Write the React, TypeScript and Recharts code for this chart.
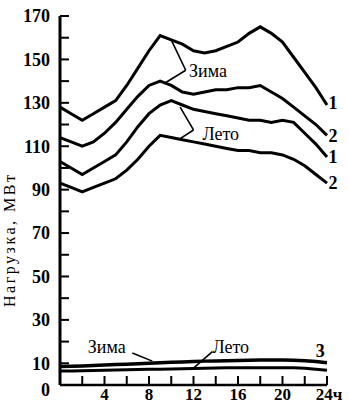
import { LineChart, Line, XAxis, YAxis, ReferenceLine, ReferenceDot } from 'recharts';

const hours = [0, 1, 2, 3, 4, 5, 6, 7, 8, 9, 10, 11, 12, 13, 14, 15, 16, 17, 18, 19, 20, 21, 22, 23, 24];
const winter1 = [128, 125, 122, 125, 128, 131, 138, 146, 154, 161, 159, 157, 154, 153, 154, 156, 158, 162, 165, 162, 158, 151, 144, 137, 129];
const winter2 = [114, 112, 110, 112, 116, 121, 127, 133, 138, 140, 138, 135, 134, 135, 136, 136, 137, 137, 138, 135, 132, 128, 124, 120, 115];
const summer1 = [103, 100, 97, 100, 103, 106, 112, 119, 125, 129, 131, 129, 127, 126, 125, 124, 123, 122, 122, 121, 122, 121, 116, 111, 105];
const summer2 = [93, 91, 89, 91, 93, 95, 99, 104, 110, 115, 114, 113, 112, 111, 110, 109, 108, 108, 107, 107, 106, 104, 101, 97, 93];
const winter3 = [8.5, 8.6, 8.8, 9, 9.2, 9.5, 9.6, 9.8, 10, 10.3, 10.5, 10.6, 10.8, 11, 11.1, 11.2, 11.3, 11.4, 11.5, 11.5, 11.5, 11.4, 11.2, 10.8, 10.3];
const summer3 = [6.5, 6.5, 6.6, 6.7, 6.8, 6.9, 7, 7.1, 7.2, 7.3, 7.4, 7.5, 7.6, 7.7, 7.8, 7.9, 8, 8, 8, 8, 8, 7.9, 7.7, 7.3, 6.8];

const xTicks = [2, 4, 6, 8, 10, 12, 14, 16, 18, 20, 22, 24];
const yTicks = [0, 10, 20, 30, 40, 50, 60, 70, 80, 90, 100, 110, 120, 130, 140, 150, 160, 170];

const data = hours.map((h, i) => ({
  h,
  w1: winter1[i],
  w2: winter2[i],
  s1: summer1[i],
  s2: summer2[i],
  w3: winter3[i],
  s3: summer3[i],
}));

const FONT = '"Liberation Serif", "DejaVu Serif", serif';

const XTick = (props: any) => {
  const { x, y, payload } = props;
  const v = payload.value;
  return (
    <g>
      <line x1={x} y1={y} x2={x} y2={y - 9} stroke="#000" strokeWidth={2} />
      {v % 4 === 0 && (
        <text x={v === 24 ? x + 2 : x} y={y + 15} textAnchor="middle" fontFamily={FONT} fontSize={17} fontWeight="bold" fill="#000">
          {v === 24 ? '24ч' : v}
        </text>
      )}
    </g>
  );
};

const YTick = (props: any) => {
  const { x, y, payload } = props;
  const v = payload.value;
  const show = v === 0 || v % 20 === 10;
  return (
    <g>
      {v !== 0 && <line x1={x} y1={y} x2={x + 9} y2={y} stroke="#000" strokeWidth={2} />}
      {show && (
        <text x={x - 10} y={v === 0 ? y + 5 : y} dy="0.35em" textAnchor="end" fontFamily={FONT} fontSize={18} fontWeight="bold" fill="#000">
          {v}
        </text>
      )}
    </g>
  );
};

const note = (text: string, dx: number, opts: any = {}) => (p: any) => (
  <text
    x={p.viewBox.x + dx}
    y={p.viewBox.y}
    dy="0.35em"
    textAnchor={opts.anchor || 'start'}
    fontFamily={FONT}
    fontSize={opts.size || 18}
    fontWeight={opts.bold ? 'bold' : 'normal'}
    fill="#000"
  >
    {text}
  </text>
);

const lead = { stroke: '#000', strokeWidth: 1.6, ifOverflow: 'visible' as const };

export default function App() {
  return (
    <div style={{ position: 'absolute', left: 0, top: 0, background: '#fff' }}>
      <LineChart width={349} height={405} data={data} margin={{ top: 16, right: 22, bottom: 0, left: 0 }}>
        <XAxis
          dataKey="h"
          type="number"
          domain={[0, 24]}
          ticks={xTicks}
          interval={0}
          height={20}
          tickSize={0}
          tickMargin={0}
          tick={XTick}
          axisLine={{ stroke: '#000', strokeWidth: 2.5 }}
        />
        <YAxis
          type="number"
          domain={[0, 170]}
          ticks={yTicks}
          interval={0}
          width={60}
          tickSize={0}
          tickMargin={0}
          tick={YTick}
          axisLine={{ stroke: '#000', strokeWidth: 3 }}
        />
        <Line dataKey="w1" stroke="#000" strokeWidth={3} dot={false} isAnimationActive={false} />
        <Line dataKey="w2" stroke="#000" strokeWidth={3} dot={false} isAnimationActive={false} />
        <Line dataKey="s1" stroke="#000" strokeWidth={3} dot={false} isAnimationActive={false} />
        <Line dataKey="s2" stroke="#000" strokeWidth={3} dot={false} isAnimationActive={false} />
        <Line dataKey="w3" stroke="#000" strokeWidth={3.5} dot={false} isAnimationActive={false} />
        <Line dataKey="s3" stroke="#000" strokeWidth={3} dot={false} isAnimationActive={false} />

        <ReferenceLine segment={[{ x: 10, y: 159 }, { x: 11.3, y: 145 }]} {...lead} />
        <ReferenceLine segment={[{ x: 9.4, y: 139 }, { x: 11.3, y: 145 }]} {...lead} />
        <ReferenceLine segment={[{ x: 10.8, y: 128 }, { x: 12, y: 117.5 }]} {...lead} />
        <ReferenceLine segment={[{ x: 10.8, y: 113.5 }, { x: 12, y: 117.5 }]} {...lead} />
        <ReferenceLine segment={[{ x: 6.5, y: 14.7 }, { x: 8.3, y: 11 }]} {...lead} />
        <ReferenceLine segment={[{ x: 13.7, y: 15.4 }, { x: 12, y: 7.8 }]} {...lead} />

        <ReferenceDot x={11.6} y={145} r={0} ifOverflow="visible" label={note('Зима', 0)} />
        <ReferenceDot x={12.8} y={116} r={0} ifOverflow="visible" label={note('Лето', 0)} />
        <ReferenceDot x={2.5} y={17.5} r={0} ifOverflow="visible" label={note('Зима', 0)} />
        <ReferenceDot x={13.7} y={17.5} r={0} ifOverflow="visible" label={note('Лето', 0)} />
        <ReferenceDot x={23.4} y={16} r={0} ifOverflow="visible" label={note('3', 0, { anchor: 'middle', bold: true })} />
        <ReferenceDot x={24} y={130} r={0} ifOverflow="visible" label={note('1', 6, { anchor: 'middle', bold: true })} />
        <ReferenceDot x={24} y={115} r={0} ifOverflow="visible" label={note('2', 6, { anchor: 'middle', bold: true })} />
        <ReferenceDot x={24} y={105} r={0} ifOverflow="visible" label={note('1', 6, { anchor: 'middle', bold: true })} />
        <ReferenceDot x={24} y={93} r={0} ifOverflow="visible" label={note('2', 6, { anchor: 'middle', bold: true })} />
      </LineChart>
      <svg width={30} height={405} style={{ position: 'absolute', left: 0, top: 0 }}>
        <text
          transform="translate(9, 241) rotate(-90)"
          textAnchor="middle"
          dy="0.35em"
          fontFamily={FONT}
          fontSize={16}
          textLength={132}
          lengthAdjust="spacing"
          fill="#000"
        >
          Нагрузка, МВт
        </text>
      </svg>
    </div>
  );
}
